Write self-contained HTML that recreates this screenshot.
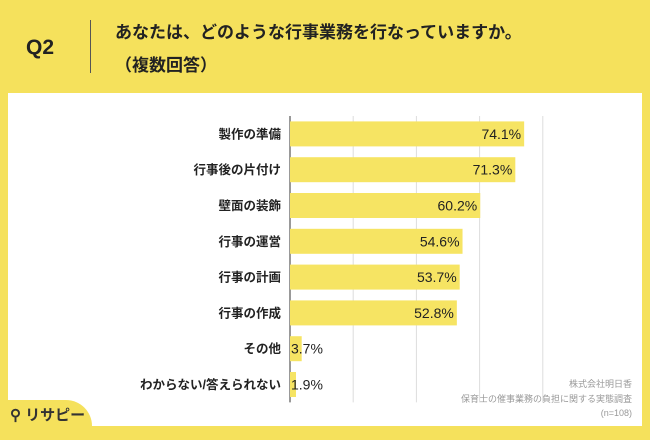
<!DOCTYPE html>
<html><head><meta charset="utf-8"><style>
body{margin:0;width:650px;height:434px;background:#f5e15c;font-family:"Liberation Sans","Noto Sans CJK JP",sans-serif;position:relative;overflow:hidden}
</style></head><body>
<div style="position:absolute;left:26px;top:36px;font-size:21px;font-weight:bold;color:#222">Q2</div>
<div style="position:absolute;left:90px;top:20px;width:1px;height:53px;background:#555"></div>
<div style="position:absolute;left:115px;top:16px;font-size:17px;font-weight:bold;color:#222;line-height:33px">あなたは、どのような行事業務を行なっていますか。<br>（複数回答）</div>
<div style="position:absolute;left:8px;top:93px;width:634px;height:333px;background:#fff"></div>
<div style="position:absolute;left:0;top:400px;width:92px;height:40px;background:#f5e15c;border-top-right-radius:26px"></div>
<div style="position:absolute;left:10px;top:404px;font-size:15px;font-weight:bold;color:#333">⚲ リサピー</div>
<div style="position:absolute;right:18px;top:377px;font-size:9px;color:#999;text-align:right;line-height:14.5px">株式会社明日香<br>保育士の催事業務の負担に関する実態調査<br>(n=108)</div>
<svg id="chart" width="650" height="434" style="position:absolute;left:0;top:0"></svg>
<script>
const categories=["製作の準備","行事後の片付け","壁面の装飾","行事の運営","行事の計画","行事の作成","その他","わからない/答えられない"];
const values=[74.1,71.3,60.2,54.6,53.7,52.8,3.7,1.9];
const gridTicks=[0,20,40,60,80];
const svg=document.getElementById('chart');
const NS='http://www.w3.org/2000/svg';
const x0=290,xs=3.16,y0=116,step=35.8,bh=25;
const X=v=>x0+v*xs;
const Y=i=>y0+i*step;
function mk(t,a){const e=document.createElementNS(NS,t);for(const k in a)e.setAttribute(k,a[k]);svg.appendChild(e);return e;}
gridTicks.forEach(t=>{
 const l=mk('line',{x1:X(t),x2:X(t),y1:y0,y2:y0+categories.length*step,stroke:t===0?'#333':'#ddd','stroke-width':1});
 
 
});
categories.forEach((c,i)=>{
 const cy=Y(i)+step/2;
 const r=mk('rect',{x:X(0),y:cy-bh/2,width:X(values[i])-X(0),height:bh,fill:'#f6e463'});
 
 
 const lb=mk('text',{x:281,y:cy+4.5,'text-anchor':'end','font-size':12.5,'font-weight':'bold',fill:'#222'});
 lb.textContent=c;
 
 
 const inside=values[i]>20;
 const vt=mk('text',{x:inside?X(values[i])-3:X(0)+1,y:cy+5,'text-anchor':inside?'end':'start','font-size':14,fill:'#222'});
 vt.textContent=values[i].toFixed(1)+'%';
 
 
});
</script>
</body></html>
